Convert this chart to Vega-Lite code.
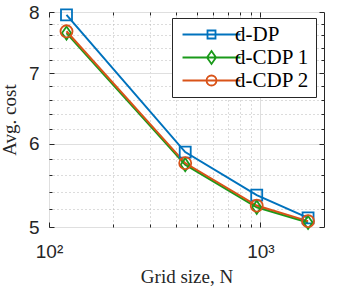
{
  "$schema": "https://vega.github.io/schema/vega-lite/v6.json",
  "width": 275,
  "height": 215,
  "autosize": {"type": "none"},
  "padding": {"left": 49, "top": 12, "right": 35, "bottom": 62},
  "background": "white",
  "config": {
    "view": {"stroke": "#262626", "strokeWidth": 1},
    "axis": {
      "domain": false,
      "labelFont": "Liberation Sans",
      "labelFontSize": 19,
      "labelColor": "#262626",
      "labelFlush": false,
      "titleFont": "Liberation Serif",
      "titleFontSize": 19,
      "titleFontWeight": "normal",
      "titleColor": "#262626",
      "tickColor": "#262626",
      "tickWidth": 1
    }
  },
  "data": {
    "values": [
      {"method": "d-DP", "N": 121, "cost": 7.95},
      {"method": "d-DP", "N": 441, "cost": 5.89},
      {"method": "d-DP", "N": 961, "cost": 5.36},
      {"method": "d-DP", "N": 1681, "cost": 5.1},
      {"method": "d-CDP 1", "N": 121, "cost": 7.64},
      {"method": "d-CDP 1", "N": 441, "cost": 5.73},
      {"method": "d-CDP 1", "N": 961, "cost": 5.22},
      {"method": "d-CDP 1", "N": 1681, "cost": 5.05},
      {"method": "d-CDP 2", "N": 121, "cost": 7.67},
      {"method": "d-CDP 2", "N": 441, "cost": 5.75},
      {"method": "d-CDP 2", "N": 961, "cost": 5.24},
      {"method": "d-CDP 2", "N": 1681, "cost": 5.065}
    ]
  },
  "layer": [
    {
      "mark": {"type": "line", "strokeWidth": 2},
      "encoding": {
        "x": {
          "field": "N", "type": "quantitative",
          "scale": {"type": "log", "domain": [100, 2000], "nice": false},
          "axis": {
            "orient": "bottom", "values": [100, 1000],
            "labelExpr": "datum.value == 100 ? '10²' : '10³'",
            "grid": true, "gridColor": "#dfdfdf", "gridWidth": 1,
            "ticks": true, "tickSize": -5, "labelPadding": 20,
            "title": "Grid size, N", "titlePadding": 6
          }
        },
        "y": {
          "field": "cost", "type": "quantitative",
          "scale": {"type": "log", "domain": [5, 8], "nice": false, "zero": false},
          "axis": {
            "orient": "left", "values": [5, 6, 7, 8],
            "grid": true, "gridColor": "#dfdfdf", "gridWidth": 1,
            "ticks": true, "tickSize": -5, "labelPadding": 15,
            "title": "Avg. cost", "titlePadding": 9
          }
        },
        "color": {
          "field": "method", "type": "nominal",
          "scale": {"domain": ["d-DP", "d-CDP 1", "d-CDP 2"], "range": ["#0072BD", "#1A9A1A", "#D95319"]},
          "legend": {
            "title": null, "titlePadding": 0, "orient": "none", "legendX": 123, "legendY": 6,
            "strokeColor": "#262626", "fillColor": "white", "padding": 6,
            "labelFont": "Liberation Serif", "labelFontSize": 21, "labelColor": "black",
            "symbolSize": 144, "symbolStrokeWidth": 1.8, "symbolOffset": 23, "labelOffset": 13,
            "rowPadding": 1,
            "encode": {
              "symbols": {
                "update": {
                  "shape": [
                    {"test": "datum.value === 'd-DP'", "value": "M-4.83,0H4.83M-0.667,-0.667H0.667V0.667H-0.667Z"},
                    {"test": "datum.value === 'd-CDP 1'", "value": "M-4.83,0H4.83M0,-1.08L0.75,0L0,1.08L-0.75,0Z"},
                    {"value": "M-4.83,0H4.83M0.833,0A0.833,0.833 0 1,1 -0.833,0A0.833,0.833 0 1,1 0.833,0Z"}
                  ],
                  "fill": {"value": "transparent"}
                }
              }
            }
          }
        }
      }
    },
    {
      "mark": {"type": "point", "filled": false, "strokeWidth": 1.8, "opacity": 1},
      "encoding": {
        "x": {
          "field": "N", "type": "quantitative",
          "axis": {
            "orient": "bottom", "values": [200, 300, 400, 500, 600, 700, 800, 900],
            "grid": true, "gridColor": "#b8b8b8", "gridDash": [1, 3], "gridWidth": 1,
            "labels": false, "ticks": true, "tickSize": -3, "title": null
          }
        },
        "y": {
          "field": "cost", "type": "quantitative",
          "axis": {
            "orient": "left", "values": [5.2, 5.4, 5.6, 5.8, 6.2, 6.4, 6.6, 6.8, 7.2, 7.4, 7.6, 7.8],
            "grid": true, "gridColor": "#b8b8b8", "gridDash": [1, 3], "gridWidth": 1,
            "labels": false, "ticks": true, "tickSize": -3, "title": null
          }
        },
        "color": {"field": "method", "type": "nominal", "legend": null},
        "shape": {
          "field": "method", "type": "nominal",
          "scale": {"range": ["M0,-1L0.69,0L0,1L-0.69,0Z", "circle", "square"]},
          "legend": null
        },
        "size": {
          "field": "method", "type": "nominal",
          "scale": {"range": [169, 121, 81]},
          "legend": null
        }
      }
    },
    {
      "mark": {"type": "point", "opacity": 0},
      "encoding": {
        "x": {
          "field": "N", "type": "quantitative",
          "axis": {"orient": "top", "values": [100, 1000], "grid": false, "labels": false, "ticks": true, "tickSize": -5, "title": null}
        },
        "y": {
          "field": "cost", "type": "quantitative",
          "axis": {"orient": "right", "values": [5, 6, 7, 8], "grid": false, "labels": false, "ticks": true, "tickSize": -5, "title": null}
        }
      }
    },
    {
      "mark": {"type": "point", "opacity": 0},
      "encoding": {
        "x": {
          "field": "N", "type": "quantitative",
          "axis": {"orient": "top", "values": [200, 300, 400, 500, 600, 700, 800, 900], "grid": false, "labels": false, "ticks": true, "tickSize": -3, "title": null}
        },
        "y": {
          "field": "cost", "type": "quantitative",
          "axis": {"orient": "right", "values": [5.2, 5.4, 5.6, 5.8, 6.2, 6.4, 6.6, 6.8, 7.2, 7.4, 7.6, 7.8], "grid": false, "labels": false, "ticks": true, "tickSize": -3, "title": null}
        }
      }
    }
  ],
  "resolve": {"axis": {"x": "independent", "y": "independent"}}
}
